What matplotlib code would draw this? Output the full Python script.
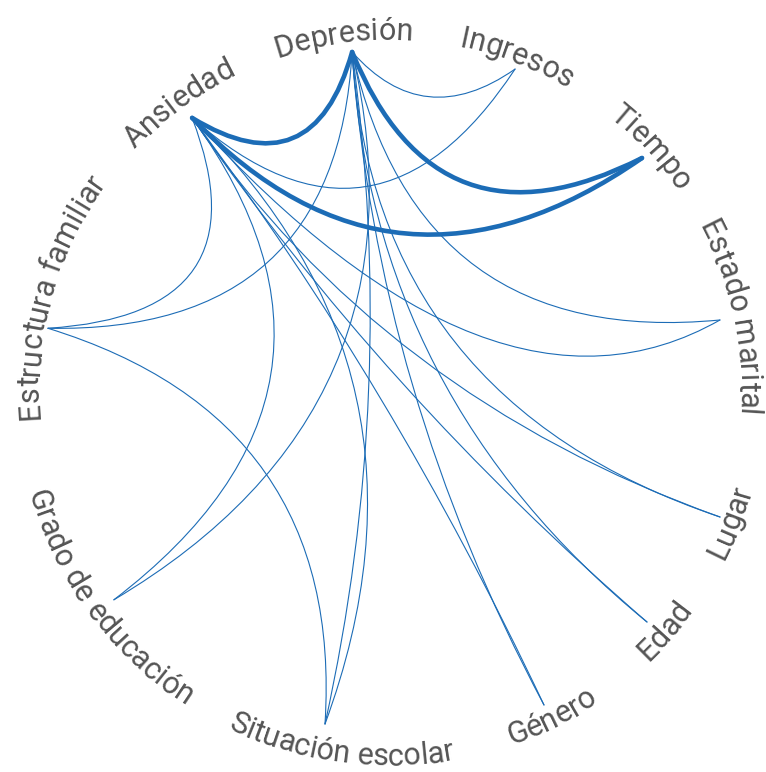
import numpy as np
import matplotlib
matplotlib.use('Agg')
import matplotlib.pyplot as plt
from matplotlib import font_manager
from matplotlib.ft2font import FT2Font
from matplotlib.path import Path
from matplotlib.patches import PathPatch

# --- data ---
nodes = ['Depresión', 'Ingresos', 'Tiempo', 'Estado marital', 'Lugar', 'Edad',
         'Género', 'Situación escolar', 'Grado de educación',
         'Estructura familiar', 'Ansiedad']

sources = ['Depresión', 'Depresión', 'Ansiedad',
           'Depresión', 'Ansiedad', 'Depresión', 'Ansiedad',
           'Depresión', 'Ansiedad', 'Depresión', 'Ansiedad',
           'Depresión', 'Ansiedad', 'Depresión', 'Ansiedad',
           'Depresión', 'Ansiedad', 'Depresión', 'Ansiedad',
           'Estructura familiar']
targets = ['Ansiedad', 'Tiempo', 'Tiempo',
           'Ingresos', 'Ingresos', 'Estructura familiar', 'Estructura familiar',
           'Estado marital', 'Estado marital', 'Lugar', 'Lugar',
           'Edad', 'Edad', 'Género', 'Género',
           'Situación escolar', 'Situación escolar',
           'Grado de educación', 'Grado de educación',
           'Situación escolar']
weights = [3, 3, 3] + [1] * 17

# --- layout (pixel space of the 766x772 canvas) ---
CX, CY = 388.8, 389.6
node_angle = [96.2, 68.5, 42.45, 11.87, -21.04, -41.99, -63.8, -100.8, -142.6, 169.8, 125.9]
node_radius = [339.6, 344.5, 343.1, 338.4, 354.9, 347.4, 351.5, 340.4, 346.1, 346.3, 335.4]
label_angle = [97.3, 68.9, 42.7, 11.8, -21.3, -41.2, -63.6, -97.6, -143.3, 164.3, 126.2]
R_TEXT_TOP, R_TEXT_BOTTOM = 350, 376
# how far each edge's control point is pulled toward the centre, and slid along the chord
bend = [0.35, 0.55, 0.76, 0.22, 0.63, 0.72, 0.55, 0.8, 1.1, 1.1,
        1.1, 1.15, 1.2, 1.2, 1.2, 1.2, 1.5, 1.3, 1.0, 0.78]
slide = [0] * 8 + [0.21] + [0] * 11

EDGE_COLOR = '#1c6cb6'
TEXT_COLOR = '#555555'
FONT_PT = 22

fig = plt.figure(figsize=(7.66, 7.72), dpi=100)
ax = fig.add_axes([0, 0, 1, 1])
ax.set_xlim(0, 766)
ax.set_ylim(772, 0)
ax.axis('off')


def node_xy(name):
    i = nodes.index(name)
    a = np.radians(node_angle[i])
    return np.array([CX + node_radius[i] * np.cos(a), CY - node_radius[i] * np.sin(a)])


center = np.array([CX, CY])
for s, t, w, k, sl in zip(sources, targets, weights, bend, slide):
    p0, p2 = node_xy(s), node_xy(t)
    mid = (p0 + p2) / 2
    c = mid + k * (center - mid) + sl * (p2 - p0)
    path = Path([p0, c, p2], [Path.MOVETO, Path.CURVE3, Path.CURVE3])
    ax.add_patch(PathPatch(path, fill=False, edgecolor=EDGE_COLOR,
                           lw=3.3 if w > 1 else 0.8, capstyle='round',
                           zorder=3 if w > 1 else 2))

# --- labels along the circle ---
fp = font_manager.FontProperties(family='Roboto')
ft = FT2Font(font_manager.findfont(fp))
ft.set_size(FONT_PT, 100)


def arc_text(text, ang):
    advs = [ft.load_char(ord(ch)).linearHoriAdvance / 65536 for ch in text]
    top = 0 < ang < 180
    r = R_TEXT_TOP if top else R_TEXT_BOTTOM
    sgn = -1 if top else 1
    phi0 = np.radians(ang) - sgn * sum(advs) / 2 / r
    pos = 0
    for ch, a in zip(text, advs):
        phi = phi0 + sgn * (pos + a / 2) / r
        x, y = CX + r * np.cos(phi), CY - r * np.sin(phi)
        rot = np.degrees(phi) - 90 if top else np.degrees(phi) + 90
        ax.text(x, y, ch, rotation=rot, rotation_mode='anchor', ha='center',
                va='baseline', fontproperties=fp, fontsize=FONT_PT, color=TEXT_COLOR)
        pos += a


for name, ang in zip(nodes, label_angle):
    arc_text(name, ang)

fig.savefig('out.png', dpi=100)
